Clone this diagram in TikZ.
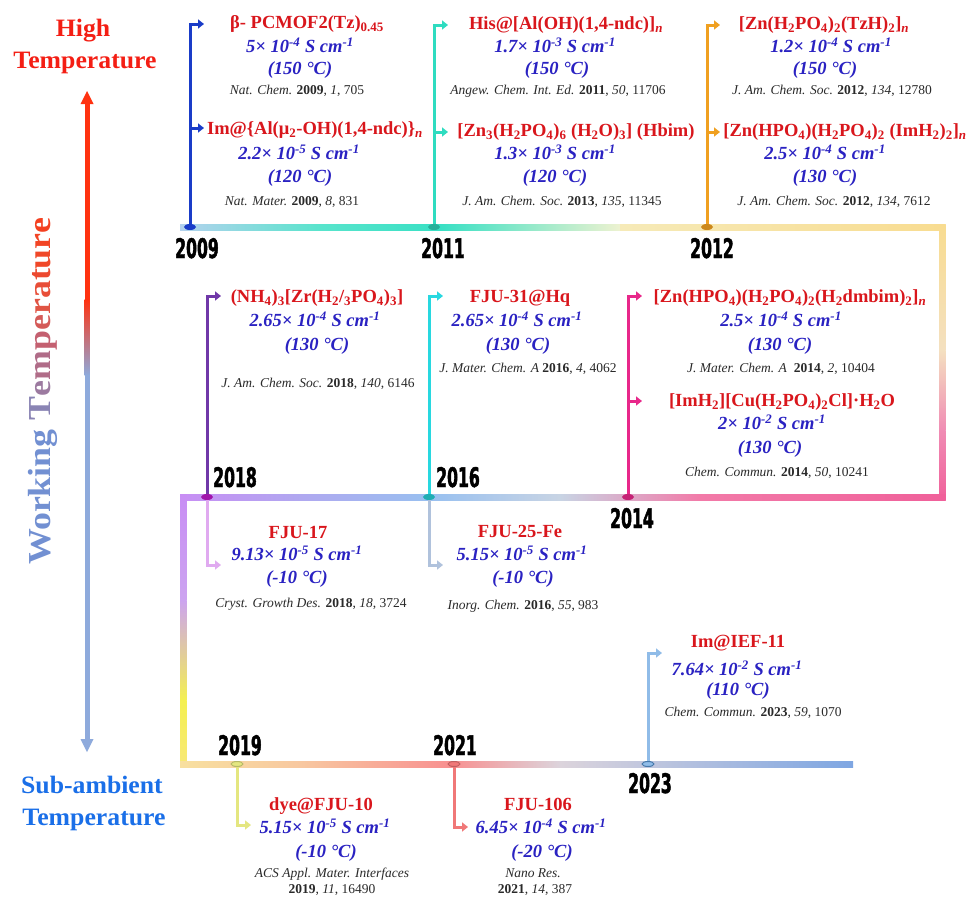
\documentclass[tikz,border=0pt]{standalone}
\usepackage{fontspec}
\setmainfont{Liberation Serif}
\newfontfamily\yearfont[FakeStretch=0.58,FakeBold=1.6]{DejaVu Sans}
\newfontfamily\sidefont[FakeStretch=1.03]{Liberation Serif}
\newfontfamily\axisfont[FakeStretch=1.12]{Liberation Serif}
\usetikzlibrary{arrows.meta}
\definecolor{tred}{HTML}{D9161C}
\definecolor{tblue}{HTML}{2A22C2}
\definecolor{rgray}{HTML}{2A2A2A}
\definecolor{hired}{HTML}{F41E14}
\definecolor{subblue}{HTML}{1A6FE8}
\definecolor{c09}{HTML}{1A3CC8}
\definecolor{c11}{HTML}{2EDCC0}
\definecolor{c12}{HTML}{F0A020}
\definecolor{c18}{HTML}{7038A8}
\definecolor{c18d}{HTML}{E0AAF0}
\definecolor{cm18}{HTML}{A014AA}
\definecolor{c16}{HTML}{28D8E0}
\definecolor{c16d}{HTML}{B0C2DC}
\definecolor{c14}{HTML}{E8288A}
\definecolor{c19}{HTML}{E4E680}
\definecolor{c21}{HTML}{F07878}
\definecolor{c23}{HTML}{90BCE8}
\definecolor{cm23}{HTML}{4678AA}
\definecolor{arred}{HTML}{FF3210}
\definecolor{arblue}{HTML}{8EAADC}
% timeline colours
\definecolor{L1}{RGB}{180,210,238}
\definecolor{L2}{RGB}{88,228,204}
\definecolor{L3}{RGB}{56,224,196}
\definecolor{L4}{RGB}{238,242,208}
\definecolor{L5}{RGB}{246,234,184}
\definecolor{L6}{RGB}{248,220,144}
\definecolor{L7}{RGB}{244,224,192}
\definecolor{L8}{RGB}{240,140,180}
\definecolor{L9}{RGB}{240,96,154}
\definecolor{M1}{RGB}{200,142,244}
\definecolor{M2}{RGB}{176,168,240}
\definecolor{M3}{RGB}{152,192,240}
\definecolor{M4}{RGB}{200,212,228}
\definecolor{M5}{RGB}{242,122,168}
\definecolor{S1}{RGB}{204,164,240}
\definecolor{S2}{RGB}{244,240,80}
\definecolor{S3}{RGB}{248,232,120}
\definecolor{B1}{RGB}{248,224,160}
\definecolor{B2}{RGB}{248,200,160}
\definecolor{B3}{RGB}{248,144,144}
\definecolor{B4}{RGB}{220,212,220}
\definecolor{B5}{RGB}{126,166,226}
\newcommand\sbs[1]{\textsubscript{#1}}
\newcommand\sps[1]{\textsuperscript{#1}}
\newcommand\rf[4]{\textit{#1} \textbf{#2}, \textit{#3}, #4}
\tikzset{
  ttl/.style={anchor=base, yshift=-5.5pt, inner sep=0pt, text=tred,
    font=\fontsize{18.5}{20}\selectfont\bfseries},
  cnd/.style={anchor=base, yshift=-5.5pt, inner sep=0pt, text=tblue,
    font=\fontsize{18.5}{20}\selectfont\bfseries\itshape},
  rfs/.style={anchor=base, yshift=-4pt, inner sep=0pt, text=rgray,
    font=\fontsize{13.5}{15}\selectfont},
  yr/.style={anchor=base, yshift=-10pt, inner sep=0pt, text=black,
    font=\yearfont\bfseries\fontsize{27}{28}\selectfont},
  side/.style={anchor=base, yshift=-8pt, inner sep=0pt,
    font=\sidefont\bfseries\fontsize{25}{27}\selectfont},
  br/.style={line width=3pt, line join=miter, -{Triangle[length=6pt,width=9pt]}},
  mk/.style={x radius=6pt, y radius=3pt},
}
\begin{document}
\begin{tikzpicture}[x=1pt,y=-1pt]
\useasboundingbox (0,0) rectangle (969,897);
\fill[white] (0,0) rectangle (969,897);

% ---------- left temperature axis ----------
\fill[arred] (84.5,101) rectangle (89.5,300);
\shade[top color=arred, bottom color=arblue] (84.5,299.5) rectangle (89.5,375.5);
\fill[arblue] (84.5,375) rectangle (89.5,742);
\fill[arred] (80.5,104) -- (93.5,104) -- (87,91) -- cycle;
\fill[arblue] (80.5,739) -- (93.5,739) -- (87,752) -- cycle;
\node[side, text=hired] (hi1) at (83,28) {High};
\node[side, text=hired] (hi2) at (85,60) {Temperature};
\node[side, text=subblue] (lo1) at (92,785) {Sub-ambient};
\node[side, text=subblue] (lo2) at (94,817) {Temperature};
\node[rotate=90, inner sep=0pt, font=\axisfont\bfseries\fontsize{32}{34}\selectfont] (wt) at (43,391)
 {\textcolor[HTML]{7290D2}{Working} \textcolor[HTML]{8A84B4}{T}\textcolor[HTML]{9C7AA0}{e}\textcolor[HTML]{B06C88}{m}\textcolor[HTML]{C46070}{p}\textcolor[HTML]{D45A58}{e}\textcolor[HTML]{E05444}{r}\textcolor[HTML]{E84E38}{a}\textcolor[HTML]{EC4A30}{t}\textcolor[HTML]{F04828}{u}\textcolor[HTML]{F24424}{r}\textcolor[HTML]{F44020}{e}};

% ---------- timeline ----------
\shade[left color=L1, right color=L2] (180,224) rectangle (320.5,230.5);
\shade[left color=L2, right color=L3] (320,224) rectangle (440.5,230.5);
\shade[left color=L3, right color=L4] (440,224) rectangle (620.5,230.5);
\shade[left color=L5, right color=L6] (620,224) rectangle (945.5,230.5);
\shade[top color=L6, bottom color=L7] (939,224) rectangle (945.5,350.5);
\shade[top color=L7, bottom color=L8] (939,350) rectangle (945.5,430.5);
\shade[top color=L8, bottom color=L9] (939,430) rectangle (945.5,500.5);
\shade[left color=M1, right color=M2] (180,494) rectangle (300.5,500.5);
\shade[left color=M2, right color=M3] (300,494) rectangle (430.5,500.5);
\shade[left color=M3, right color=M4] (430,494) rectangle (560.5,500.5);
\shade[left color=M4, right color=M5] (560,494) rectangle (700.5,500.5);
\shade[left color=M5, right color=L9] (700,494) rectangle (945.5,500.5);
\shade[top color=M1, bottom color=S1] (180,494) rectangle (186.5,600.5);
\shade[top color=S1, bottom color=S2] (180,600) rectangle (186.5,700.5);
\shade[top color=S2, bottom color=S3] (180,700) rectangle (186.5,767.5);
\shade[left color=B1, right color=B2] (180,761) rectangle (300.5,767.5);
\shade[left color=B2, right color=B3] (300,761) rectangle (450.5,767.5);
\shade[left color=B3, right color=B4] (450,761) rectangle (560.5,767.5);
\shade[left color=B4, right color=B5] (560,761) rectangle (853,767.5);

% ---------- junctions and branch points ----------
\coordinate (j09) at (190,227); \coordinate (j11) at (434,227); \coordinate (j12) at (707,227);
\coordinate (j18) at (207,497); \coordinate (j16) at (429,497); \coordinate (j14) at (628,497);
\coordinate (j19) at (237,764); \coordinate (j21) at (454,764); \coordinate (j23) at (648,764);
\coordinate (b09) at (190,128); \coordinate (b11) at (434,132); \coordinate (b12) at (707,132);
\coordinate (b14) at (628,401);
\coordinate (a09a) at (204,24);  \coordinate (a09b) at (204,128);
\coordinate (a11a) at (448,25);  \coordinate (a11b) at (448,132);
\coordinate (a12a) at (720,25);  \coordinate (a12b) at (720,132);
\coordinate (a18u) at (221,296); \coordinate (a18d) at (221,565);
\coordinate (a16u) at (443,296); \coordinate (a16d) at (443,565);
\coordinate (a14a) at (642,296); \coordinate (a14b) at (642,401);
\coordinate (a19) at (251,825);  \coordinate (a21) at (468,827); \coordinate (a23) at (662,653);

% ---------- branches ----------
\draw[br, c09] (j09) |- (a09a);  \draw[br, c09] (b09) -- (a09b);
\draw[br, c11] (j11) |- (a11a);  \draw[br, c11] (b11) -- (a11b);
\draw[br, c12] (j12) |- (a12a);  \draw[br, c12] (b12) -- (a12b);
\draw[br, c18] (j18) |- (a18u);  \draw[br, c18d] (j18) |- (a18d);
\draw[br, c16] (j16) |- (a16u);  \draw[br, c16d] (j16) |- (a16d);
\draw[br, c14] (j14) |- (a14a);  \draw[br, c14] (b14) -- (a14b);
\draw[br, c19] (j19) |- (a19);
\draw[br, c21] (j21) |- (a21);
\draw[br, c23] (j23) |- (a23);

% junction markers
\fill[c09] (j09) ellipse [mk];
\fill[c11!80!black] (j11) ellipse [mk];
\fill[c12!85!black] (j12) ellipse [mk];
\fill[cm18] (j18) ellipse [mk];
\fill[c16!80!black] (j16) ellipse [mk];
\fill[c14!85!black] (j14) ellipse [mk];
\draw[c19!80!black, line width=1pt, fill=c19] (j19) ellipse [x radius=6pt, y radius=2.5pt];
\draw[c21!80!black, line width=1pt, fill=c21] (j21) ellipse [x radius=6pt, y radius=2.5pt];
\draw[cm23, line width=1pt, fill=c23] (j23) ellipse [x radius=6pt, y radius=2.5pt];

% ---------- years ----------
\node[yr] (y09) at (197,248) {2009};
\node[yr] (y11) at (443,248) {2011};
\node[yr] (y12) at (712,248) {2012};
\node[yr] (y18) at (235,477) {2018};
\node[yr] (y16) at (458,477) {2016};
\node[yr] (y14) at (632,518) {2014};
\node[yr] (y19) at (240,745) {2019};
\node[yr] (y21) at (455,745) {2021};
\node[yr] (y23) at (650,783) {2023};

% ---------- 2009 ----------
\node[ttl] (t09a) at (307,23) {β- PCMOF2(Tz)\sbs{0.45}};
\node[cnd] (c09a) at (300,47) {5× 10\sps{-4} S cm\sps{-1}};
\node[cnd] (k09a) at (300,69) {(150 °C)};
\node[rfs] (r09a) at (297,90) {\rf{Nat. Chem.}{2009}{1}{705}};
\node[ttl] (t09b) at (315,129) {Im@\{Al(μ\sbs{2}-OH)(1,4-ndc)\}\sbs{\textit{n}}};
\node[cnd] (c09b) at (299,154) {2.2× 10\sps{-5} S cm\sps{-1}};
\node[cnd] (k09b) at (300,177) {(120 °C)};
\node[rfs] (r09b) at (292,201) {\rf{Nat. Mater.}{2009}{8}{831}};

% ---------- 2011 ----------
\node[ttl] (t11a) at (566,24) {His@[Al(OH)(1,4-ndc)]\sbs{\textit{n}}};
\node[cnd] (c11a) at (555,47) {1.7× 10\sps{-3} S cm\sps{-1}};
\node[cnd] (k11a) at (557,69) {(150 °C)};
\node[rfs] (r11a) at (558,90) {\rf{Angew. Chem. Int. Ed.}{2011}{50}{11706}};
\node[ttl] (t11b) at (576,131) {[Zn\sbs{3}(H\sbs{2}PO\sbs{4})\sbs{6} (H\sbs{2}O)\sbs{3}] (Hbim)};
\node[cnd] (c11b) at (555,154) {1.3× 10\sps{-3} S cm\sps{-1}};
\node[cnd] (k11b) at (555,177) {(120 °C)};
\node[rfs] (r11b) at (562,201) {\rf{J. Am. Chem. Soc.}{2013}{135}{11345}};

% ---------- 2012 ----------
\node[ttl] (t12a) at (824,24) {[Zn(H\sbs{2}PO\sbs{4})\sbs{2}(TzH)\sbs{2}]\sbs{\textit{n}}};
\node[cnd] (c12a) at (831,47) {1.2× 10\sps{-4} S cm\sps{-1}};
\node[cnd] (k12a) at (825,69) {(150 °C)};
\node[rfs] (r12a) at (832,90) {\rf{J. Am. Chem. Soc.}{2012}{134}{12780}};
\node[ttl] (t12b) at (845,131) {[Zn(HPO\sbs{4})(H\sbs{2}PO\sbs{4})\sbs{2} (ImH\sbs{2})\sbs{2}]\sbs{\textit{n}}};
\node[cnd] (c12b) at (825,154) {2.5× 10\sps{-4} S cm\sps{-1}};
\node[cnd] (k12b) at (825,177) {(130 °C)};
\node[rfs] (r12b) at (834,201) {\rf{J. Am. Chem. Soc.}{2012}{134}{7612}};

% ---------- 2018 ----------
\node[ttl] (t18a) at (317,297) {(NH\sbs{4})\sbs{3}[Zr(H\sbs{2}/\sbs{3}PO\sbs{4})\sbs{3}]};
\node[cnd] (c18a) at (315,321) {2.65× 10\sps{-4} S cm\sps{-1}};
\node[cnd] (k18a) at (317,345) {(130 °C)};
\node[rfs] (r18a) at (318,383) {\rf{J. Am. Chem. Soc.}{2018}{140}{6146}};
\node[ttl] (t18b) at (298,533) {FJU-17};
\node[cnd] (c18b) at (297,555) {9.13× 10\sps{-5} S cm\sps{-1}};
\node[cnd] (k18b) at (297,578) {(-10 °C)};
\node[rfs] (r18b) at (311,603) {\rf{Cryst. Growth Des.}{2018}{18}{3724}};

% ---------- 2016 ----------
\node[ttl] (t16a) at (520,297) {FJU-31@Hq};
\node[cnd] (c16a) at (517,321) {2.65× 10\sps{-4} S cm\sps{-1}};
\node[cnd] (k16a) at (518,345) {(130 °C)};
\node[rfs] (r16a) at (528,368) {\rf{J. Mater. Chem. A}{2016}{4}{4062}};
\node[ttl] (t16b) at (520,532) {FJU-25-Fe};
\node[cnd] (c16b) at (522,555) {5.15× 10\sps{-5} S cm\sps{-1}};
\node[cnd] (k16b) at (523,578) {(-10 °C)};
\node[rfs] (r16b) at (523,605) {\rf{Inorg. Chem.}{2016}{55}{983}};

% ---------- 2014 ----------
\node[ttl] (t14a) at (790,297) {[Zn(HPO\sbs{4})(H\sbs{2}PO\sbs{4})\sbs{2}(H\sbs{2}dmbim)\sbs{2}]\sbs{\textit{n}}};
\node[cnd] (c14a) at (781,321) {2.5× 10\sps{-4} S cm\sps{-1}};
\node[cnd] (k14a) at (780,345) {(130 °C)};
\node[rfs] (r14a) at (781,368) {\rf{J. Mater. Chem. A\ }{2014}{2}{10404}};
\node[ttl] (t14b) at (782,401) {[ImH\sbs{2}][Cu(H\sbs{2}PO\sbs{4})\sbs{2}Cl]·H\sbs{2}O};
\node[cnd] (c14b) at (772,424) {2× 10\sps{-2} S cm\sps{-1}};
\node[cnd] (k14b) at (770,448) {(130 °C)};
\node[rfs] (r14b) at (777,472) {\rf{Chem. Commun.}{2014}{50}{10241}};

% ---------- 2019 ----------
\node[ttl] (t19) at (321,805) {dye@FJU-10};
\node[cnd] (c19x) at (325,828) {5.15× 10\sps{-5} S cm\sps{-1}};
\node[cnd] (k19) at (326,852) {(-10 °C)};
\node[rfs] (r19a) at (332,873) {\textit{ACS Appl. Mater. Interfaces}};
\node[rfs] (r19b) at (332,889) {\textbf{2019}, \textit{11}, 16490};

% ---------- 2021 ----------
\node[ttl] (t21) at (538,805) {FJU-106};
\node[cnd] (c21x) at (541,828) {6.45× 10\sps{-4} S cm\sps{-1}};
\node[cnd] (k21) at (542,852) {(-20 °C)};
\node[rfs] (r21a) at (533,873) {\textit{Nano Res.}};
\node[rfs] (r21b) at (535,889) {\textbf{2021}, \textit{14}, 387};

% ---------- 2023 ----------
\node[ttl] (t23) at (738,642) {Im@IEF-11};
\node[cnd] (c23x) at (737,670) {7.64× 10\sps{-2} S cm\sps{-1}};
\node[cnd] (k23) at (738,690) {(110 °C)};
\node[rfs] (r23) at (753,712) {\rf{Chem. Commun.}{2023}{59}{1070}};
\end{tikzpicture}
\end{document}
